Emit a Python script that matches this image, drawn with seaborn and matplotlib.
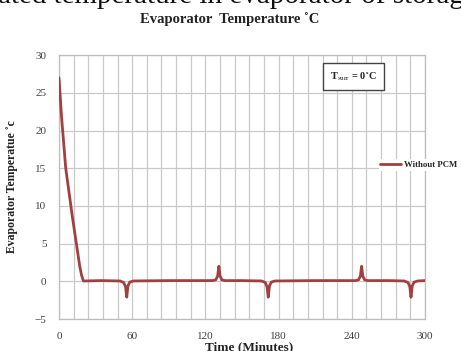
import matplotlib
matplotlib.use("Agg")
import matplotlib.pyplot as plt
import pandas as pd
import seaborn as sns

# Evaporator temperature, without PCM
time_min = [0, 2, 5.5, 11, 17, 18.5, 20, 35, 50, 53, 54.5, 55.5, 56.5, 58, 61, 90,
            126, 128.5, 130, 131, 132, 133.5, 136, 150,
            166, 169, 170.5, 171.5, 172.5, 174, 177, 210,
            243, 245.5, 247, 248, 249, 250.5, 253, 270,
            283, 286, 287.5, 288.5, 289.5, 291, 294, 300]
temp_c = [27, 22, 15, 8.5, 2, 0.8, 0.05, 0.1, 0.05, -0.15, -0.7, -2.1, -0.6, -0.1, 0.05, 0.1,
          0.1, 0.2, 0.7, 2.0, 0.7, 0.2, 0.1, 0.1,
          0.05, -0.15, -0.7, -2.1, -0.6, -0.1, 0.05, 0.1,
          0.1, 0.2, 0.7, 2.0, 0.7, 0.2, 0.1, 0.1,
          0.05, -0.15, -0.7, -2.1, -0.6, -0.1, 0.05, 0.1]
series_name = "Without PCM"
x_ticks = [0, 60, 120, 180, 240, 300]
y_ticks = [-5, 0, 5, 10, 15, 20, 25, 30]

df = pd.DataFrame({"Time": time_min, "Temp": temp_c, "Series": series_name})

sns.set_theme(style="whitegrid")
plt.rcParams["font.family"] = ["Liberation Serif", "DejaVu Serif"]
plt.rcParams["mathtext.fontset"] = "stix"

fig = plt.figure(figsize=(4.61, 3.51), dpi=100)
ax = fig.add_axes([0.128, 0.091, 0.794, 0.752])

sns.lineplot(data=df, x="Time", y="Temp", hue="Series", palette=["#a3403f"],
             linewidth=2, ax=ax, zorder=3)

ax.set_xlim(0, 300)
ax.set_ylim(-5, 30)
ax.set_xticks(x_ticks)
ax.set_xticks(range(0, 301, 12), minor=True)
ax.set_yticks(y_ticks)
ax.grid(which="both", axis="x", color="#c9c9c9", linewidth=0.9)
ax.grid(which="major", axis="y", color="#c9c9c9", linewidth=0.9)
ax.tick_params(axis="both", which="both", length=0, labelsize=8, colors="#404040", pad=9)
for spine in ax.spines.values():
    spine.set_edgecolor("#bdbdbd")
    spine.set_linewidth(0.9)

ax.set_xlabel("Time (Minutes)", fontsize=9.5, fontweight="bold", color="#222222", labelpad=0)
ax.xaxis.set_label_coords(0.52, -0.085)
ax.set_ylabel("Evaporator Temperatue \u02dac", fontsize=8.5, fontweight="bold", color="#222222", labelpad=12)

fig.text(0.499, 0.945, "Evaporator  Temperature \u02daC", ha="center", va="center",
         fontsize=10.5, fontweight="bold", color="#222222")
# caption of the source page, cut by the top edge
fig.text(0.5, 0.991, "ated temperature in evaporator of storag", ha="center", va="baseline",
         fontsize=21, color="#111111")

# T_surr annotation box
ax.text(0.805, 0.92, "T$_{\\mathrm{surr}}$ = 0$^{\\circ}$C", transform=ax.transAxes,
        ha="center", va="center", fontsize=7.5, fontweight="bold", color="#222222",
        bbox=dict(boxstyle="square,pad=0.7", facecolor="white", edgecolor="#444444", linewidth=1))

leg = ax.legend(loc="center left", bbox_to_anchor=(0.812, 0.53), bbox_transform=fig.transFigure,
                frameon=True, facecolor="white", edgecolor="none", framealpha=1,
                prop={"size": 6.3, "weight": "bold"}, handlelength=2.4, handletextpad=0.3,
                borderpad=0.2)

fig.savefig("out.png", dpi=100)
